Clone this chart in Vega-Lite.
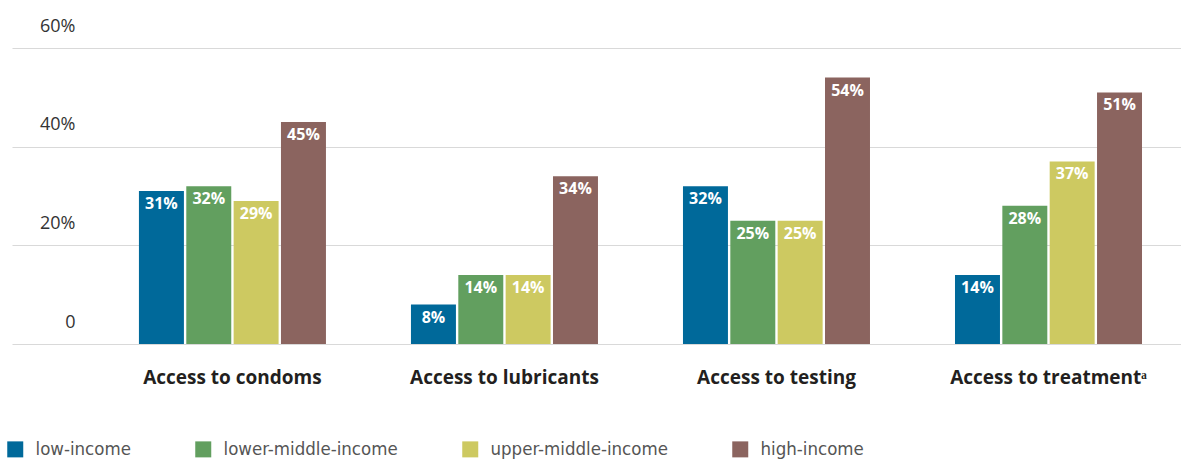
{
  "$schema": "https://vega.github.io/schema/vega-lite/v6.json",
  "width": 1169,
  "height": 296,
  "autosize": "none",
  "padding": {"left": 12, "top": 48, "right": 0, "bottom": 115},
  "background": "white",
  "config": {"view": {"stroke": null}, "font": "Open Sans"},
  "data": {
    "values": [
      {"category": "Access to condoms", "income": "low-income", "value": 31},
      {"category": "Access to condoms", "income": "lower-middle-income", "value": 32},
      {"category": "Access to condoms", "income": "upper-middle-income", "value": 29},
      {"category": "Access to condoms", "income": "high-income", "value": 45},
      {"category": "Access to lubricants", "income": "low-income", "value": 8},
      {"category": "Access to lubricants", "income": "lower-middle-income", "value": 14},
      {"category": "Access to lubricants", "income": "upper-middle-income", "value": 14},
      {"category": "Access to lubricants", "income": "high-income", "value": 34},
      {"category": "Access to testing", "income": "low-income", "value": 32},
      {"category": "Access to testing", "income": "lower-middle-income", "value": 25},
      {"category": "Access to testing", "income": "upper-middle-income", "value": 25},
      {"category": "Access to testing", "income": "high-income", "value": 54},
      {"category": "Access to treatmentᵃ", "income": "low-income", "value": 14},
      {"category": "Access to treatmentᵃ", "income": "lower-middle-income", "value": 28},
      {"category": "Access to treatmentᵃ", "income": "upper-middle-income", "value": 37},
      {"category": "Access to treatmentᵃ", "income": "high-income", "value": 51}
    ]
  },
  "encoding": {
    "x": {
      "field": "category",
      "type": "nominal",
      "sort": ["Access to condoms", "Access to lubricants", "Access to testing", "Access to treatmentᵃ"],
      "scale": {"paddingInner": 0.3125, "paddingOuter": 0.305, "align": 0.765},
      "axis": {
        "title": null,
        "domain": false,
        "ticks": false,
        "tickSize": 0,
        "labelAngle": 0,
        "labelPadding": 24,
        "labelLimit": 0,
        "labelFont": "Open Sans",
        "labelFontWeight": "bold",
        "labelFontSize": 19,
        "labelColor": "#231f20"
      }
    },
    "xOffset": {
      "field": "income",
      "type": "nominal",
      "sort": ["low-income", "lower-middle-income", "upper-middle-income", "high-income"],
      "scale": {"paddingInner": 0.05, "paddingOuter": 0}
    },
    "y": {
      "field": "value",
      "type": "quantitative",
      "scale": {"domain": [0, 60], "nice": false},
      "axis": {
        "title": null,
        "domain": false,
        "ticks": false,
        "tickSize": 0,
        "values": [0, 20, 40, 60],
        "grid": true,
        "gridColor": "#d9d9d9",
        "gridWidth": 1,
        "labelExpr": "datum.value == 0 ? '0' : datum.value + '%'",
        "labelPadding": -63,
        "labelAlign": "right",
        "labelBaseline": "alphabetic",
        "labelOffset": -17,
        "labelFlush": false,
        "labelFont": "Open Sans",
        "labelFontSize": 18,
        "labelColor": "#333333"
      }
    }
  },
  "layer": [
    {
      "mark": {"type": "bar"},
      "encoding": {
        "color": {
          "field": "income",
          "type": "nominal",
          "sort": ["low-income", "lower-middle-income", "upper-middle-income", "high-income"],
          "scale": {"range": ["#00699a", "#629f5f", "#cdc961", "#8b645f"]},
          "legend": {
            "title": null,
            "orient": "none",
            "direction": "horizontal",
            "legendX": -6,
            "legendY": 392,
            "symbolType": "square",
            "symbolSize": 256,
            "symbolStrokeWidth": 0,
            "symbolOpacity": 1,
            "labelFont": "DejaVu Sans Condensed, Roboto",
            "labelFontSize": 18.5,
            "labelLimit": 0,
            "labelColor": "#555555",
            "labelOffset": 11,
            "columnPadding": 63
          }
        }
      }
    },
    {
      "transform": [{"calculate": "datum.value + '%'", "as": "label"}],
      "mark": {
        "type": "text",
        "baseline": "top",
        "dy": 5,
        "color": "white",
        "font": "Open Sans",
        "fontWeight": "bold",
        "fontSize": 16
      },
      "encoding": {"text": {"field": "label", "type": "nominal"}}
    }
  ]
}
